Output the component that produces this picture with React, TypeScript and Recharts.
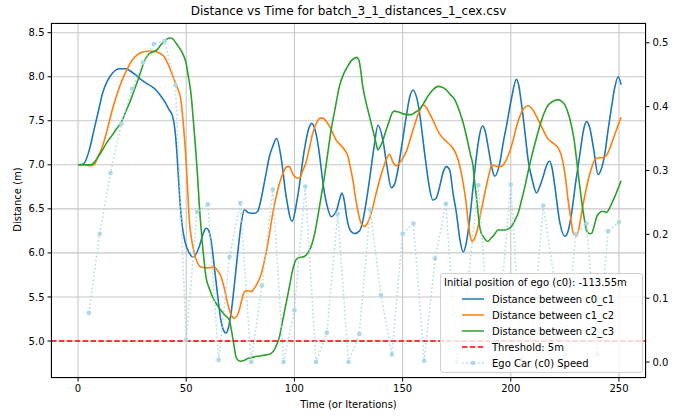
import React from "react";
import {
  CartesianGrid,
  ComposedChart,
  Line,
  ReferenceLine,
  XAxis,
  YAxis,
} from "recharts";

// [time, distance] readings for each pair of cars
const c0c1Points: [number, number][] = [
  [0, 7.0], [2.5, 7.01], [5, 7.15], [7.4, 7.4], [9.5, 7.62], [11.3, 7.81], [13.5, 7.95],
  [15.9, 8.04], [19, 8.09], [22, 8.09], [24.5, 8.06], [26.7, 8.02], [29, 7.97], [31.3, 7.93],
  [34, 7.89], [36, 7.85], [38, 7.79], [40, 7.72], [42, 7.63], [43.7, 7.55], [44.5, 7.45],
  [45.5, 7.2], [46.3, 6.9], [47.2, 6.55], [48.2, 6.3], [49.5, 6.12], [51.4, 6.0], [53.2, 5.95],
  [56, 6.07], [58, 6.23], [59.1, 6.28], [60.3, 6.26], [61.4, 6.15], [63.7, 5.69], [66, 5.24],
  [67.5, 5.11], [68.4, 5.09], [69.5, 5.15], [70.7, 5.31], [72.3, 5.65], [73.8, 6.0],
  [75.5, 6.35], [76.9, 6.49], [78.5, 6.46], [80, 6.45], [81.5, 6.45], [83, 6.47], [84.5, 6.6],
  [86.5, 6.85], [88.5, 7.1], [90, 7.21], [91.8, 7.3], [93.8, 7.09], [96.2, 6.64], [98.9, 6.36],
  [101.5, 6.64], [104.6, 7.17], [106.5, 7.4], [108, 7.47], [109.5, 7.4], [110.8, 7.25],
  [113.9, 6.68], [115.5, 6.5], [117, 6.41], [118.5, 6.44], [119.6, 6.49], [121, 6.62],
  [122, 6.68], [123, 6.6], [124.2, 6.4], [125.5, 6.27], [127.8, 6.22], [130.1, 6.25],
  [131.5, 6.35], [133, 6.55], [134.7, 6.83], [136.8, 7.2], [138.6, 7.45], [140.9, 7.28],
  [142.8, 6.98], [144.8, 6.74], [146.3, 6.78], [147.8, 6.94], [149.5, 7.2], [151.7, 7.55],
  [153.3, 7.77], [154.8, 7.85], [157.1, 7.7], [160.2, 7.13], [162, 6.8], [164, 6.6],
  [165.5, 6.62], [167.1, 6.75], [168.8, 6.92], [170.2, 6.98], [171.8, 6.94], [173.3, 6.68],
  [174.9, 6.45], [176.5, 6.15], [178, 6.01], [179.5, 6.12], [181, 6.38], [182.6, 6.75],
  [184.1, 7.09], [185.5, 7.33], [186.9, 7.44], [188.2, 7.38], [189.5, 7.21], [191, 7.0],
  [192.6, 6.87], [194.9, 7.02], [196.5, 7.25], [198, 7.44], [200.3, 7.75], [202.6, 7.97],
  [203.7, 7.9], [204.9, 7.7], [206.5, 7.38], [208, 7.06], [210, 6.82], [211.9, 6.68],
  [213.5, 6.76], [215, 6.87], [217, 7.02], [218, 7.04], [219.2, 6.95], [220.4, 6.75],
  [222.7, 6.34], [225, 6.19], [226.5, 6.25], [228.1, 6.45], [230, 6.8], [232, 7.13],
  [233.5, 7.38], [235, 7.49], [236.5, 7.42], [238.1, 7.21], [240.4, 6.89], [241.8, 6.95],
  [243.5, 7.13], [245, 7.4], [246.6, 7.66], [248, 7.87], [249.7, 8.0], [251, 7.91],
];

const c1c2Points: [number, number][] = [
  [0, 7.0], [3, 7.0], [5, 6.99], [7.4, 7.0], [9, 7.08], [11.3, 7.21], [13.5, 7.4], [15.9, 7.63],
  [18, 7.8], [20.5, 7.97], [23, 8.1], [25.1, 8.19], [27.5, 8.25], [29.8, 8.28], [32.5, 8.29],
  [35.2, 8.29], [37.5, 8.27], [39.8, 8.23], [42, 8.12], [44.4, 7.97], [46, 7.87], [47.5, 7.74],
  [48.7, 7.45], [49.9, 7.06], [50.7, 6.7], [51.4, 6.38], [52.5, 6.15], [53.7, 6.0], [55, 5.9],
  [56.8, 5.84], [59.9, 5.83], [63, 5.84], [64.5, 5.8], [66.1, 5.73], [67.6, 5.6], [69.1, 5.43],
  [70.7, 5.3], [72.2, 5.26], [73.3, 5.28], [74.5, 5.35], [75.7, 5.47], [76.9, 5.56],
  [78.5, 5.57], [80, 5.56], [81.5, 5.6], [83, 5.66], [84.5, 5.75], [86.9, 6.0], [88.5, 6.22],
  [90, 6.45], [91.5, 6.63], [93.1, 6.79], [95, 6.92], [96.5, 6.98], [97.7, 6.98], [99, 6.91],
  [100, 6.87], [101.2, 6.85], [102.3, 6.85], [103.8, 6.93], [105.4, 7.03], [107, 7.2],
  [108.5, 7.36], [110.5, 7.49], [112, 7.53], [113.1, 7.53], [114.5, 7.5], [116.2, 7.44],
  [119.3, 7.28], [121.5, 7.22], [123.5, 7.16], [124.7, 7.1], [125.8, 6.98], [127, 6.83],
  [128.3, 6.62], [129.8, 6.42], [131, 6.33], [132.4, 6.3], [134, 6.35], [135.5, 6.45],
  [137.5, 6.65], [139.4, 6.83], [141.3, 6.98], [143.2, 7.1], [144, 7.12], [145.5, 7.03],
  [147, 6.99], [148.5, 7.02], [150, 7.07], [151.7, 7.15], [154, 7.33], [156.3, 7.51],
  [158, 7.62], [159.6, 7.68], [161, 7.65], [162.5, 7.58], [164, 7.51], [166.4, 7.38],
  [168, 7.32], [170, 7.27], [171.8, 7.23], [173.5, 7.18], [174.9, 7.11], [176.5, 6.98],
  [178, 6.79], [179.2, 6.6], [180.2, 6.38], [181.2, 6.2], [182.3, 6.13], [183.5, 6.18],
  [184.9, 6.3], [186.5, 6.5], [188, 6.68], [190, 6.9], [191.2, 7.0], [192.5, 6.99],
  [194.9, 6.98], [196.5, 7.0], [198, 7.06], [199.5, 7.15], [201.1, 7.28], [202.5, 7.42],
  [204.2, 7.55], [206, 7.64], [208, 7.67], [210, 7.63], [211.9, 7.55], [213.5, 7.47],
  [215.7, 7.36], [217, 7.3], [218.8, 7.26], [220.4, 7.23], [221.9, 7.19], [223.2, 7.12],
  [224.2, 7.02], [225.3, 6.85], [226.5, 6.6], [227.7, 6.4], [228.9, 6.22], [230.4, 6.19],
  [231.5, 6.28], [232.7, 6.45], [234.3, 6.66], [235.8, 6.83], [237.3, 6.96], [238.9, 7.06],
  [240.5, 7.08], [242, 7.08], [243.2, 7.09], [244.3, 7.11], [245.8, 7.19], [247.4, 7.3],
  [249.3, 7.43], [251, 7.54],
];

const c2c3Points: [number, number][] = [
  [0, 7.0], [3, 7.0], [5.9, 7.0], [7.5, 7.03], [9.5, 7.1], [11.3, 7.17], [13.5, 7.26],
  [15.9, 7.34], [17.8, 7.41], [19.7, 7.47], [22, 7.6], [24.4, 7.74], [26.3, 7.87], [28.2, 8.0],
  [29.8, 8.12], [31.3, 8.21], [32.8, 8.26], [34.4, 8.28], [35.5, 8.29], [36.7, 8.31],
  [38.2, 8.36], [39.8, 8.4], [41.2, 8.43], [42.5, 8.44], [43.8, 8.43], [45.3, 8.38],
  [46.8, 8.33], [48.4, 8.26], [49.9, 8.16], [51, 8.0], [52.2, 7.81], [53.3, 7.5], [54.5, 7.13],
  [55.3, 6.85], [56, 6.56], [56.8, 6.3], [57.6, 6.07], [58.3, 5.9], [59.1, 5.73], [60.6, 5.6],
  [62.2, 5.5], [64, 5.42], [66, 5.35], [68, 5.29], [69.9, 5.24], [70.7, 5.15], [71.4, 5.05],
  [72.2, 4.93], [73, 4.82], [74, 4.78], [75.3, 4.77], [76.8, 4.78], [78.4, 4.8], [80, 4.81],
  [81.5, 4.82], [84, 4.83], [86.1, 4.84], [88.4, 4.85], [89.7, 4.87], [90.7, 4.9], [92, 4.97],
  [93.1, 5.05], [94.7, 5.25], [96.2, 5.43], [97.8, 5.63], [99.2, 5.81], [100.3, 5.9],
  [101.5, 5.94], [103, 5.95], [104.6, 5.96], [106.2, 6.0], [107.7, 6.07], [109.2, 6.2],
  [110.8, 6.41], [112.3, 6.63], [113.9, 6.87], [115.4, 7.13], [117, 7.4], [118.9, 7.65],
  [120.8, 7.89], [122.7, 8.03], [124.7, 8.12], [126.2, 8.18], [127.8, 8.21], [128.8, 8.22],
  [129.8, 8.19], [130.6, 8.08], [131.6, 7.89], [133, 7.72], [134.7, 7.55], [136.6, 7.36],
  [137.7, 7.25], [138.6, 7.17], [139.5, 7.2], [140.9, 7.28], [142.5, 7.4], [144, 7.51],
  [145.2, 7.59], [146.3, 7.61], [148, 7.6], [150.1, 7.58], [152, 7.57], [154, 7.57],
  [156, 7.6], [157.9, 7.63], [159.8, 7.7], [161.7, 7.78], [164, 7.85], [166.4, 7.89],
  [168.3, 7.88], [170.2, 7.85], [172, 7.8], [174.1, 7.74], [176.4, 7.6], [178.3, 7.45],
  [180.2, 7.25], [181.5, 7.1], [182.5, 7.0], [183.3, 6.8], [184.1, 6.64], [184.9, 6.45],
  [185.6, 6.3], [186.4, 6.22], [187.2, 6.19], [188.3, 6.15], [189.5, 6.13], [190.6, 6.16],
  [191.8, 6.19], [193, 6.23], [194.1, 6.26], [195.7, 6.26], [197.2, 6.26], [198.7, 6.27],
  [200.3, 6.3], [201.9, 6.37], [203.4, 6.45], [205, 6.6], [206.5, 6.75], [208, 6.92],
  [209.6, 7.09], [211.5, 7.27], [213.4, 7.44], [215.3, 7.58], [217.3, 7.68], [218.8, 7.71],
  [220.4, 7.73], [221.9, 7.74], [223.5, 7.72], [225, 7.68], [226.6, 7.58], [228.1, 7.44],
  [229.3, 7.28], [230.4, 7.06], [231.5, 6.83], [232.7, 6.6], [233.9, 6.4], [235, 6.26],
  [236.2, 6.22], [237.3, 6.22], [238.5, 6.3], [239.7, 6.41], [240.8, 6.45], [242, 6.47],
  [243.2, 6.47], [244.3, 6.46], [245.5, 6.5], [246.6, 6.56], [248.3, 6.65], [249.7, 6.74],
  [251, 6.82],
];

// ego car speed, sampled every 5 iterations
const speedTimes = [
  5, 10, 15, 20, 25, 30, 35, 40, 45, 50, 55, 60, 65, 70, 75, 80, 85, 90, 95, 100, 105, 110, 115,
  120, 125, 130, 135, 140, 145, 150, 155, 160, 165, 170, 175, 180, 185, 190, 195, 200, 205, 210,
  215, 220, 225, 230, 235, 240, 245, 250,
];
const speedValues = [
  0.077, 0.201, 0.296, 0.373, 0.428, 0.469, 0.498, 0.503, 0.434, 0.035, 0.235, 0.247, 0.003,
  0.165, 0.249, 0.0, 0.12, 0.27, 0.0, 0.081, 0.275, 0.0, 0.046, 0.232, 0.0, 0.044, 0.239, 0.105,
  0.012, 0.201, 0.217, 0.002, 0.162, 0.248, 0.0, 0.119, 0.277, 0.039, 0.079, 0.278, 0.005, 0.042,
  0.245, 0.133, 0.012, 0.2, 0.217, 0.012, 0.205, 0.219,
];

const xTicks = [0, 50, 100, 150, 200, 250];
const distTicks = [5.0, 5.5, 6.0, 6.5, 7.0, 7.5, 8.0, 8.5];
const speedTicks = [0.0, 0.1, 0.2, 0.3, 0.4, 0.5];
const threshold = 5;

type Row = { t: number; c0c1?: number; c1c2?: number; c2c3?: number; speed?: number };

function buildRows(): Row[] {
  const map = new Map<number, Row>();
  const put = (t: number, key: keyof Row, v: number) => {
    const row = map.get(t) ?? { t };
    (row as any)[key] = v;
    map.set(t, row);
  };
  c0c1Points.forEach(([t, v]) => put(t, "c0c1", v));
  c1c2Points.forEach(([t, v]) => put(t, "c1c2", v));
  c2c3Points.forEach(([t, v]) => put(t, "c2c3", v));
  speedTimes.forEach((t, i) => put(t, "speed", speedValues[i]));
  return [...map.values()].sort((a, b) => a.t - b.t);
}

const rows = buildRows();

const FONT = "'DejaVu Sans', sans-serif";
const tickStyle = { fontSize: 10, fill: "#000", fontFamily: FONT };
const SPEED_COLOR = "#add8e6";

const legendItems = [
  { label: "Distance between c0_c1", color: "#1f77b4", dash: undefined, dot: false },
  { label: "Distance between c1_c2", color: "#ff7f0e", dash: undefined, dot: false },
  { label: "Distance between c2_c3", color: "#2ca02c", dash: undefined, dot: false },
  { label: "Threshold: 5m", color: "#ff0000", dash: "5.5 2.4", dot: false },
  { label: "Ego Car (c0) Speed", color: SPEED_COLOR, dash: "1.5 2.5", dot: true },
];

export default function App() {
  return (
    <div
      style={{
        position: "absolute",
        left: 0,
        top: 0,
        width: 675,
        height: 419,
        background: "#fff",
        fontFamily: FONT,
      }}
    >
      <ComposedChart
        width={675}
        height={419}
        data={rows}
        margin={{ top: 23, right: 0, bottom: 0, left: 0 }}
      >
        <CartesianGrid stroke="#c8c8c8" strokeWidth={1.1} />
        <XAxis
          dataKey="t"
          type="number"
          domain={[-12.5, 262.5]}
          ticks={xTicks}
          height={41}
          tick={tickStyle}
          tickSize={3.5}
          tickMargin={3}
          tickLine={{ stroke: "#000" }}
          axisLine={false}
          allowDataOverflow
        />
        <YAxis
          type="number"
          domain={[4.58, 8.61]}
          ticks={distTicks}
          width={51}
          tick={tickStyle}
          tickSize={3.5}
          tickMargin={3}
          tickLine={{ stroke: "#000" }}
          axisLine={false}
          tickFormatter={(v: number) => v.toFixed(1)}
          allowDataOverflow
        />
        <YAxis
          yAxisId="speed"
          orientation="right"
          type="number"
          domain={[-0.025, 0.531]}
          ticks={speedTicks}
          width={29}
          tick={tickStyle}
          tickSize={3.5}
          tickMargin={3}
          tickLine={{ stroke: "#000" }}
          axisLine={false}
          tickFormatter={(v: number) => v.toFixed(1)}
          allowDataOverflow
        />
        <Line
          type="monotone"
          dataKey="c0c1"
          stroke="#1f77b4"
          strokeWidth={1.6}
          dot={false}
          connectNulls
          isAnimationActive={false}
        />
        <Line
          type="monotone"
          dataKey="c1c2"
          stroke="#ff7f0e"
          strokeWidth={1.6}
          dot={false}
          connectNulls
          isAnimationActive={false}
        />
        <Line
          type="monotone"
          dataKey="c2c3"
          stroke="#2ca02c"
          strokeWidth={1.6}
          dot={false}
          connectNulls
          isAnimationActive={false}
        />
        <ReferenceLine y={threshold} stroke="#ff0000" strokeWidth={1.5} strokeDasharray="5.5 2.4" />
        <Line
          yAxisId="speed"
          type="linear"
          dataKey="speed"
          stroke={SPEED_COLOR}
          strokeWidth={1.5}
          strokeDasharray="1.5 2.5"
          dot={{ r: 2.3, fill: SPEED_COLOR, stroke: SPEED_COLOR, strokeWidth: 0, strokeDasharray: "" }}
          connectNulls
          isAnimationActive={false}
        />
      </ComposedChart>

      {/* axes frame */}
      <div
        style={{
          position: "absolute",
          left: 51,
          top: 23,
          width: 595,
          height: 355,
          boxSizing: "border-box",
          border: "1px solid #000",
          pointerEvents: "none",
        }}
      />

      <div
        style={{
          position: "absolute",
          left: 0,
          width: 697,
          top: 4,
          textAlign: "center",
          fontSize: 12,
          lineHeight: "15px",
        }}
      >
        Distance vs Time for batch_3_1_distances_1_cex.csv
      </div>
      <div
        style={{
          position: "absolute",
          left: 0,
          width: 697,
          top: 398,
          textAlign: "center",
          fontSize: 10,
          lineHeight: "13px",
        }}
      >
        Time (or Iterations)
      </div>
      <div
        style={{
          position: "absolute",
          left: 17 - 50,
          top: 200 - 7,
          width: 100,
          textAlign: "center",
          fontSize: 10,
          lineHeight: "13px",
          transform: "rotate(-90deg)",
        }}
      >
        Distance (m)
      </div>

      {/* legend */}
      <div
        style={{
          position: "absolute",
          left: 440,
          top: 273,
          width: 203,
          height: 100,
          boxSizing: "border-box",
          background: "rgba(255,255,255,0.8)",
          border: "1px solid #d0d0d0",
          borderRadius: 3,
          fontSize: 10,
        }}
      >
        <div style={{ position: "absolute", left: 3, top: 2, lineHeight: "13px", whiteSpace: "nowrap" }}>
          Initial position of ego (c0): -113.55m
        </div>
        {legendItems.map((item, i) => (
          <div key={item.label}>
            <svg
              width={24}
              height={8}
              style={{ position: "absolute", left: 20, top: 21 + i * 16.1 }}
            >
              <line
                x1={1}
                x2={23}
                y1={4}
                y2={4}
                stroke={item.color}
                strokeWidth={1.5}
                strokeDasharray={item.dash}
              />
              {item.dot && <circle cx={12} cy={4} r={2.3} fill={item.color} />}
            </svg>
            <div
              style={{
                position: "absolute",
                left: 51,
                top: 18.5 + i * 16.1,
                lineHeight: "13px",
                whiteSpace: "nowrap",
              }}
            >
              {item.label}
            </div>
          </div>
        ))}
      </div>
    </div>
  );
}
